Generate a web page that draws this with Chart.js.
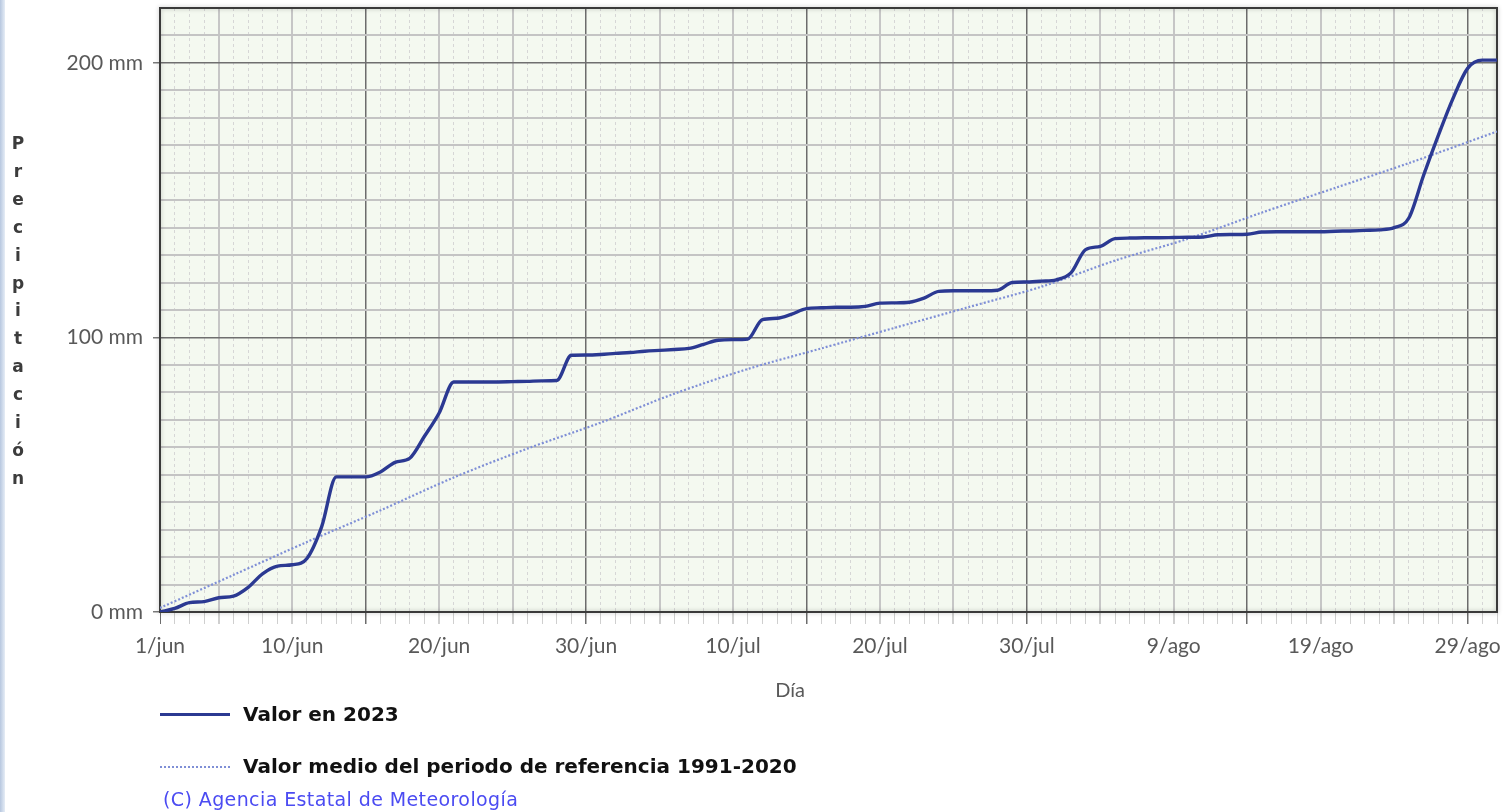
<!DOCTYPE html>
<html>
<head>
<meta charset="utf-8">
<title>Precipitación acumulada</title>
<script src="https://cdn.jsdelivr.net/npm/chart.js@4.4.1/dist/chart.umd.min.js"></script>
<style>
  html, body { margin: 0; padding: 0; background: #fff; }
  body { width: 1511px; height: 812px; position: relative; overflow: hidden; }
  #chart { position: absolute; left: 0; top: 0; }
  .edge { position: absolute; left: 0; top: 0; width: 5px; height: 812px; background: linear-gradient(to right, #b7c7df, #e6edf6); }
  #ytitle { position: absolute; left: 6px; top: 130px; width: 24px; font: bold 17px "DejaVu Sans", sans-serif; color: #3c3c3c; text-align: center; line-height: 27.9px; }
  #xtitle { position: absolute; left: 740px; top: 677px; width: 100px; text-align: center; font: 20px Lato, sans-serif; color: #595959; }
  .sample { position: absolute; left: 160px; width: 70px; height: 0; }
  .legtext { position: absolute; left: 243px; font: bold 20px "DejaVu Sans", sans-serif; color: #111; white-space: nowrap; }
  #copy { position: absolute; left: 163px; top: 788px; font: 19px "DejaVu Sans", sans-serif; letter-spacing: 0.4px; color: #4b4bf2; white-space: nowrap; }
</style>
</head>
<body>
<canvas id="chart" width="1511" height="812"></canvas>
<div class="edge"></div>
<div id="ytitle"></div>
<div id="xtitle">Día</div>
<div class="sample" style="top:713px; border-top:3px solid #2b3992;"></div>
<div class="legtext" style="top:702px;">Valor en 2023</div>
<div class="sample" style="top:766px; border-top:2px dotted #7f8fd6;"></div>
<div class="legtext" style="top:754px;">Valor medio del periodo de referencia 1991-2020</div>
<div id="copy">(C) Agencia Estatal de Meteorología</div>
<script>
// tick labels on the day axis (day index from 1/jun = 0)
const labelDays = [0, 9, 19, 29, 39, 49, 59, 69, 79, 89];
const dayLabels = ['1/jun', '10/jun', '20/jun', '30/jun', '10/jul', '20/jul', '30/jul', '9/ago', '19/ago', '29/ago'];
const yLabelValues = [0, 100, 200];

// accumulated precipitation 2023, one value per day (1/jun .. 31/ago)
const rain2023 = [
  0, 1.3, 3.4, 3.8, 5.2, 5.8, 9, 14, 16.7, 17.2,
  19.5, 31, 49.2, 49.2, 49.2, 51, 54.5, 56, 64, 72.5,
  83.8, 83.8, 83.8, 83.8, 83.9, 84, 84.2, 84.3, 93.5, 93.6,
  93.8, 94.2, 94.5, 95, 95.3, 95.6, 96, 97.5, 99, 99.2,
  99.4, 106.5, 107, 108.5, 110.5, 110.8, 111, 111, 111.3, 112.5,
  112.6, 112.8, 114.3, 116.8, 117, 117, 117, 117.2, 120, 120.2,
  120.5, 121, 123.5, 132, 133.2, 136, 136.2, 136.3, 136.3, 136.4,
  136.5, 136.6, 137.4, 137.5, 137.6, 138.4, 138.5, 138.5, 138.5, 138.5,
  138.7, 138.8, 139, 139.2, 140, 143.5, 159, 173.5, 187, 198,
  201, 201
];

// reference period 1991-2020 mean (read every few days)
const refDays = [0, 5, 10, 15, 20, 25, 30, 35, 40, 45, 50, 55, 60, 65, 70, 75, 80, 85, 91];
const refValues = [1.5, 13.5, 25.5, 37, 49, 59.5, 69, 79.5, 88.5, 96, 103.5, 111, 118.5, 128, 136, 145.5, 154.5, 163.5, 175];

// vertical title, one letter per line
const ytitle = document.getElementById('ytitle');
'Precipitación'.split('').forEach(function(ch) {
  const d = document.createElement('div');
  d.textContent = ch;
  ytitle.appendChild(d);
});

const plotFrame = {
  id: 'plotFrame',
  beforeDraw(chart) {
    const a = chart.chartArea;
    const ctx = chart.ctx;
    ctx.save();
    ctx.fillStyle = '#f4f9f0';
    ctx.fillRect(a.left, a.top, a.right - a.left, a.bottom - a.top);
    ctx.restore();
  },
  beforeDatasetsDraw(chart) {
    const a = chart.chartArea;
    const ctx = chart.ctx;
    ctx.save();
    ctx.shadowColor = 'rgba(0,0,0,0.25)';
    ctx.shadowBlur = 4;
    ctx.strokeStyle = '#3a3a3a';
    ctx.lineWidth = 2;
    ctx.strokeRect(a.left, a.top, a.right - a.left, a.bottom - a.top);
    ctx.restore();
  }
};

function dayKind(v) {
  if ((v + 1) % 15 === 0) return 'major';
  if ((v + 1) % 5 === 0) return 'mid';
  return 'minor';
}

const ctx = document.getElementById('chart').getContext('2d');
const chart = new Chart(ctx, {
  type: 'line',
  data: {
    datasets: [{
      label: 'Valor medio del periodo de referencia 1991-2020',
      data: refDays.map((d, i) => ({ x: d, y: refValues[i] })),
      borderColor: '#7f8fd6',
      borderWidth: 2.2,
      borderDash: [2, 2],
      pointRadius: 0,
      tension: 0.3,
      order: 2
    }, {
      label: 'Valor en 2023',
      data: rain2023.map((v, i) => ({ x: i, y: v })),
      borderColor: '#2b3992',
      borderWidth: 3.4,
      pointRadius: 0,
      cubicInterpolationMode: 'monotone',
      order: 1
    }]
  },
  options: {
    responsive: false,
    animation: false,
    devicePixelRatio: 1,
    layout: { padding: { top: 8, left: 0, right: 14, bottom: 112 } },
    plugins: {
      legend: { display: false },
      tooltip: { enabled: false }
    },
    scales: {
      x: {
        type: 'linear',
        min: 0,
        max: 91,
        afterBuildTicks: s => { s.ticks = Array.from({ length: 92 }, (_, i) => ({ value: i })); },
        afterFit: s => { s.height = 88; s.paddingLeft = 0; s.paddingRight = 0; },
        ticks: {
          autoSkip: false,
          maxRotation: 0,
          padding: 10,
          color: '#595959',
          font: { family: 'Lato', size: 21 },
          callback: v => {
            const k = labelDays.indexOf(v);
            return k >= 0 ? dayLabels[k] : '';
          }
        },
        grid: {
          color: c => {
            const k = dayKind(c.tick.value);
            return k === 'major' ? '#6c6c6c' : (k === 'mid' ? '#c6c6c6' : '#d6d6d6');
          },
          lineWidth: c => {
            const k = dayKind(c.tick.value);
            return k === 'major' ? 1.5 : (k === 'mid' ? 2 : 1);
          },
          tickLength: 12,
          tickColor: c => dayKind(c.tick.value) === 'major' || c.tick.value === 0 ? '#6c6c6c' : '#cfcfcf'
        },
        border: {
          display: false,
          dash: c => (c.tick && dayKind(c.tick.value) === 'minor') ? [3, 3] : []
        }
      },
      y: {
        min: 0,
        max: 220,
        afterBuildTicks: s => { s.ticks = Array.from({ length: 23 }, (_, i) => ({ value: i * 10 })); },
        afterFit: s => { s.width = 160; s.paddingTop = 0; s.paddingBottom = 0; },
        ticks: {
          autoSkip: false,
          padding: 10,
          color: '#595959',
          font: { family: 'Lato', size: 21 },
          callback: v => yLabelValues.includes(v) ? v + ' mm' : ''
        },
        grid: {
          color: c => c.tick.value % 100 === 0 ? '#6f6f6f' : '#c4c4c4',
          lineWidth: c => c.tick.value % 100 === 0 ? 1.5 : 2,
          tickLength: 7,
          tickColor: c => c.tick.value % 100 === 0 ? '#7a7a7a' : 'rgba(0,0,0,0)'
        },
        border: { display: false }
      }
    }
  },
  plugins: [plotFrame]
});
</script>
</body>
</html>
